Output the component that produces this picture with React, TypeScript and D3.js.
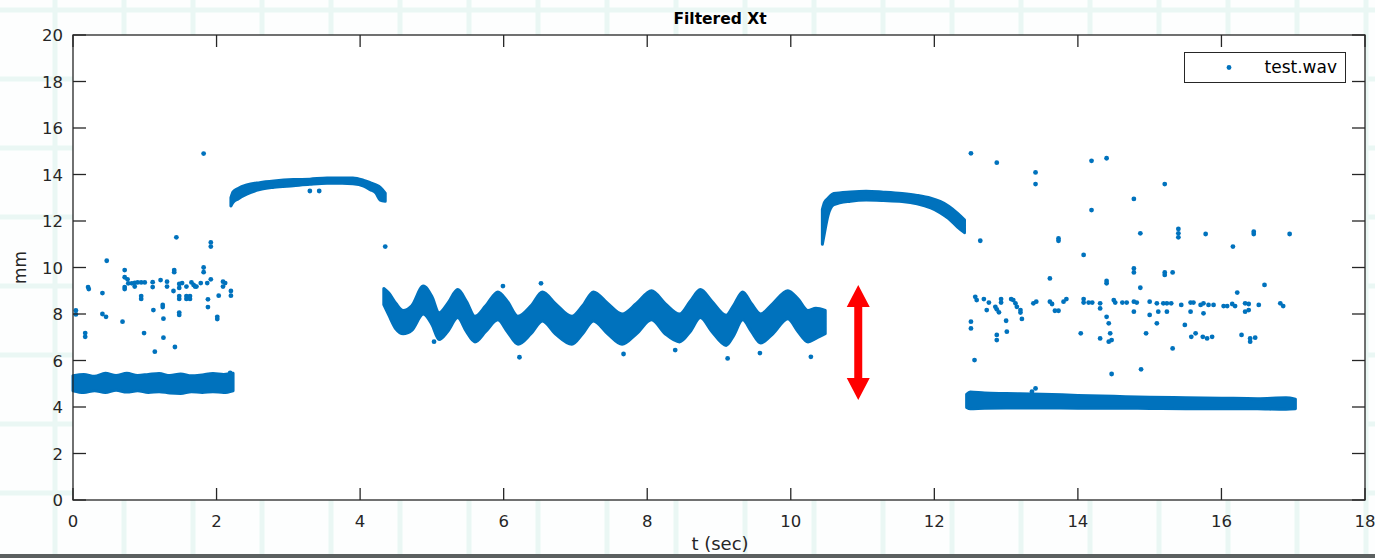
import React, { useEffect, useRef } from "react";
import * as d3 from "d3";

// axis ticks
const xTicks = [0, 2, 4, 6, 8, 10, 12, 14, 16, 18];
const yTicks = [0, 2, 4, 6, 8, 10, 12, 14, 16, 18, 20];

// dense bands: time, lower edge, upper edge (mm)
const bandAT = [0, 0.15, 0.3, 0.45, 0.6, 0.75, 0.9, 1.05, 1.2, 1.35, 1.5, 1.65, 1.8, 1.95, 2.1, 2.23];
const bandALo = [4.7, 4.62, 4.7, 4.62, 4.72, 4.64, 4.7, 4.62, 4.66, 4.6, 4.58, 4.66, 4.62, 4.66, 4.62, 4.7];
const bandAHi = [5.35, 5.4, 5.32, 5.45, 5.35, 5.45, 5.36, 5.4, 5.44, 5.35, 5.42, 5.34, 5.38, 5.44, 5.4, 5.45];

const bandBT = [2.2, 2.23, 2.3, 2.42, 2.6, 2.8, 3.07, 3.3, 3.54, 3.75, 3.9, 4.05, 4.14, 4.22, 4.28, 4.35];
const bandBLo = [12.65, 12.8, 12.95, 13.15, 13.35, 13.45, 13.52, 13.58, 13.62, 13.62, 13.6, 13.5, 13.35, 13.2, 12.9, 12.85];
const bandBHi = [13.0, 13.25, 13.4, 13.55, 13.65, 13.72, 13.78, 13.8, 13.85, 13.85, 13.85, 13.75, 13.65, 13.55, 13.45, 13.2];

const bandCT = [4.33, 4.4, 4.5, 4.6, 4.72, 4.88, 5.0, 5.1, 5.22, 5.36, 5.48, 5.6, 5.75, 5.92, 6.05, 6.2, 6.38, 6.54, 6.72, 6.95, 7.1, 7.25, 7.45, 7.65, 7.85, 8.06, 8.25, 8.45, 8.6, 8.74, 8.9, 9.1, 9.2, 9.33, 9.45, 9.58, 9.75, 9.96, 10.1, 10.24, 10.35, 10.48];
const bandCLo = [8.4, 7.95, 7.35, 7.15, 7.3, 8.0, 7.55, 6.9, 7.25, 7.85, 7.25, 6.8, 7.25, 7.75, 7.25, 6.7, 7.15, 7.7, 7.15, 6.7, 7.15, 7.7, 7.15, 6.7, 7.15, 7.75, 7.15, 6.8, 7.25, 7.85, 7.25, 6.65, 7.05, 7.75, 7.25, 6.75, 7.15, 7.8, 7.25, 6.8, 6.95, 7.15];
const bandCHi = [9.1, 8.9, 8.45, 8.15, 8.35, 9.2, 8.75, 8.05, 8.45, 9.05, 8.55, 7.9, 8.35, 8.95, 8.55, 7.9, 8.35, 8.95, 8.45, 7.9, 8.35, 8.95, 8.45, 8.0, 8.45, 9.0, 8.45, 8.0, 8.55, 9.05, 8.55, 7.95, 8.35, 8.95, 8.45, 8.0, 8.45, 9.0, 8.65, 8.15, 8.25, 8.15];

const bandDT = [10.44, 10.47, 10.52, 10.6, 10.83, 11.05, 11.29, 11.55, 11.76, 11.95, 12.08, 12.2, 12.32, 12.42];
const bandDLo = [11.0, 11.5, 12.25, 12.7, 12.85, 12.9, 12.88, 12.84, 12.74, 12.56, 12.36, 12.1, 11.75, 11.5];
const bandDHi = [12.5, 12.8, 12.98, 13.18, 13.25, 13.28, 13.24, 13.18, 13.1, 12.98, 12.84, 12.64, 12.34, 12.05];

const bandET = [12.45, 12.5, 12.7, 13.0, 13.5, 14.0, 14.5, 15.0, 15.5, 16.0, 16.5, 16.9, 17.03];
const bandELo = [3.98, 3.92, 3.95, 3.96, 3.96, 3.95, 3.95, 3.94, 3.93, 3.93, 3.92, 3.9, 3.92];
const bandEHi = [4.55, 4.65, 4.6, 4.58, 4.55, 4.5, 4.46, 4.42, 4.4, 4.38, 4.36, 4.4, 4.34];

// isolated samples [t, mm]
const pointsEarly: [number, number][] = [
  [0.04, 8.15], [0.04, 7.98], [0.17, 7.18], [0.17, 7.02], [0.21, 9.16], [0.22, 9.07],
  [0.41, 8.9], [0.41, 8.0], [0.46, 7.88], [0.47, 10.29], [0.69, 7.67], [0.72, 9.89],
  [0.72, 9.58], [0.76, 9.49], [0.72, 9.16], [0.72, 9.07], [0.77, 9.32], [0.82, 9.32],
  [0.86, 9.34], [0.9, 9.36], [0.95, 9.36], [1.0, 9.36], [0.86, 9.18], [0.95, 8.77],
  [0.95, 8.65], [0.99, 7.18], [1.11, 9.37], [1.11, 9.16], [1.12, 8.17], [1.14, 6.38],
  [1.22, 9.46], [1.25, 8.39], [1.25, 8.3], [1.26, 7.8], [1.26, 6.98], [1.31, 9.39],
  [1.31, 9.18], [1.41, 9.89], [1.41, 9.8], [1.4, 8.99], [1.42, 6.58], [1.44, 11.3],
  [1.48, 9.29], [1.48, 9.12], [1.48, 8.77], [1.48, 8.65], [1.48, 8.06], [1.48, 7.96],
  [1.52, 9.33], [1.58, 9.18], [1.58, 8.77], [1.58, 8.65], [1.63, 8.77], [1.63, 8.65],
  [1.65, 9.36], [1.68, 9.25], [1.7, 9.18], [1.72, 9.18], [1.78, 9.33], [1.82, 10.0],
  [1.82, 9.8], [1.88, 8.63], [1.87, 9.33], [1.88, 8.3], [1.92, 9.49], [1.92, 11.08],
  [1.92, 10.9], [2.01, 7.88], [2.01, 7.78], [2.03, 8.79], [2.09, 9.39], [2.09, 9.18],
  [2.12, 9.33], [2.2, 8.99], [2.2, 8.79], [2.19, 5.47], [1.82, 14.9],
  [3.3, 13.29], [3.43, 13.29], [4.35, 10.9], [5.03, 6.81], [6.22, 6.14], [5.99, 9.2],
  [6.52, 9.32], [9.12, 6.09], [7.67, 6.28], [10.28, 6.16], [8.39, 6.45], [9.57, 6.32],
];

const pointsLate: [number, number][] = [
  [12.51, 14.91], [12.87, 14.51], [13.41, 14.09], [13.41, 13.59], [14.19, 14.59],
  [14.4, 14.7], [15.21, 13.59], [14.78, 12.95], [14.19, 12.47], [12.64, 11.15],
  [13.73, 11.25], [13.73, 11.15], [14.87, 11.47], [15.4, 11.66], [15.4, 11.47],
  [15.4, 11.3], [15.78, 11.44], [16.16, 10.9], [16.45, 11.54], [16.45, 11.44],
  [16.95, 11.44], [14.08, 10.54], [13.61, 9.53], [14.4, 9.42], [14.4, 9.32],
  [14.78, 9.96], [14.78, 9.79], [14.87, 9.13], [15.21, 9.79], [15.21, 9.68], [15.32, 9.79],
  [12.57, 8.74], [12.59, 8.6], [12.69, 8.64], [12.76, 8.49], [12.73, 8.17], [12.85, 8.31],
  [12.87, 8.2], [12.9, 8.07], [12.93, 8.64], [12.93, 8.49], [13.0, 7.71], [13.01, 7.24],
  [13.07, 8.64], [13.1, 8.6], [13.13, 8.46], [13.15, 8.31], [13.2, 8.17], [13.2, 8.06],
  [13.22, 7.79], [13.38, 8.46], [13.42, 8.53], [13.61, 8.53], [13.64, 8.43], [13.68, 8.14],
  [13.73, 8.14], [13.8, 8.53], [13.84, 8.64], [14.08, 8.64], [14.08, 8.49], [14.15, 8.49],
  [14.2, 8.49], [14.31, 8.46], [14.31, 8.24], [14.4, 7.88], [14.43, 7.6], [14.45, 7.17],
  [14.5, 8.6], [14.52, 8.49], [14.62, 8.49], [14.68, 8.49], [14.78, 8.53], [14.78, 8.1],
  [14.82, 8.49], [15.0, 8.53], [15.0, 7.96], [15.1, 8.46], [15.12, 8.1], [15.1, 7.6],
  [15.19, 8.46], [15.24, 8.46], [15.24, 8.1], [15.3, 8.46], [15.44, 8.39], [15.49, 7.53],
  [15.57, 8.49], [15.57, 8.1], [15.61, 8.49], [15.71, 8.39], [15.75, 8.46], [15.75, 8.03],
  [15.82, 8.39], [15.89, 8.39], [16.03, 8.34], [16.08, 8.34], [16.15, 8.43], [16.19, 8.34],
  [16.22, 8.92], [16.33, 8.46], [16.33, 8.1], [16.38, 8.43], [16.38, 8.17], [16.52, 8.39],
  [16.6, 9.25], [16.82, 8.46], [16.86, 8.34],
  [12.51, 7.67], [12.51, 7.38], [12.56, 6.02], [12.87, 7.1], [12.87, 6.88], [14.04, 7.17],
  [14.31, 6.95], [14.43, 6.81], [14.47, 6.88], [14.47, 5.42], [14.88, 5.62], [14.95, 7.17],
  [15.32, 6.52], [15.58, 7.02], [15.64, 7.17], [15.74, 7.02], [15.8, 6.95], [15.87, 7.02],
  [16.28, 7.1], [16.4, 6.95], [16.4, 6.81], [16.47, 6.98], [13.36, 4.66], [13.41, 4.8],
];

// red double arrow annotation: time, from mm, to mm
const arrowT = 10.94;
const arrowRange = [4.3, 9.25];

export default function App() {
  const svgRef = useRef<SVGSVGElement | null>(null);

  useEffect(() => {
    const width = 1375;
    const height = 558;
    const margin = { top: 35, right: 10, bottom: 58, left: 73 };
    const blue = "#0072BD";
    const ink = "#262626";
    const font = "'DejaVu Sans', Verdana, sans-serif";

    const svg = d3.select(svgRef.current);
    svg.selectAll("*").remove();

    const x = d3.scaleLinear().domain([0, 18]).range([margin.left, width - margin.right]);
    const y = d3.scaleLinear().domain([0, 20]).range([height - margin.bottom, margin.top]);

    // faint screenshot backdrop
    svg.append("rect").attr("width", width).attr("height", height).attr("fill", "#fdfefe");
    const bg = svg.append("g").attr("stroke", "#eaf7f4").attr("stroke-width", 5);
    d3.range(55, width, 69).forEach((gx) =>
      bg.append("line").attr("x1", gx).attr("x2", gx).attr("y1", 0).attr("y2", height)
    );
    d3.range(10, height, 69).forEach((gy) =>
      bg.append("line").attr("x1", 0).attr("x2", width).attr("y1", gy).attr("y2", gy)
    );
    svg.append("rect").attr("x", 0).attr("y", 554).attr("width", width).attr("height", 4).attr("fill", "#5b6060");

    // plot area
    svg
      .append("rect")
      .attr("x", x(0))
      .attr("y", y(20))
      .attr("width", x(18) - x(0))
      .attr("height", y(0) - y(20))
      .attr("fill", "white");

    // dense bands
    const bands = [
      [bandAT, bandALo, bandAHi],
      [bandBT, bandBLo, bandBHi],
      [bandCT, bandCLo, bandCHi],
      [bandDT, bandDLo, bandDHi],
      [bandET, bandELo, bandEHi],
    ];
    bands.forEach(([ts, lo, hi]) => {
      const rows = ts.map((t, i) => ({ t, lo: lo[i], hi: hi[i] }));
      const a = d3
        .area<{ t: number; lo: number; hi: number }>()
        .x((d) => x(d.t))
        .y0((d) => y(d.lo))
        .y1((d) => y(d.hi))
        .curve(d3.curveMonotoneX);
      svg
        .append("path")
        .datum(rows)
        .attr("d", a)
        .attr("fill", blue)
        .attr("stroke", blue)
        .attr("stroke-width", 3)
        .attr("stroke-linejoin", "round");
    });

    // scattered samples
    svg
      .append("g")
      .attr("fill", blue)
      .selectAll("circle")
      .data([...pointsEarly, ...pointsLate])
      .join("circle")
      .attr("cx", (d) => x(d[0]))
      .attr("cy", (d) => y(d[1]))
      .attr("r", 2.4);

    // red double arrow
    const ax = x(arrowT);
    const yTop = y(arrowRange[1]);
    const yBot = y(arrowRange[0]);
    const head = 22;
    const halfHead = 11.5;
    const halfShaft = 4;
    svg
      .append("path")
      .attr("fill", "#ff0000")
      .attr(
        "d",
        `M${ax},${yTop} L${ax + halfHead},${yTop + head} L${ax + halfShaft},${yTop + head} ` +
          `L${ax + halfShaft},${yBot - head} L${ax + halfHead},${yBot - head} L${ax},${yBot} ` +
          `L${ax - halfHead},${yBot - head} L${ax - halfShaft},${yBot - head} L${ax - halfShaft},${yTop + head} ` +
          `L${ax - halfHead},${yTop + head} Z`
      );

    // axes box with inward ticks on all sides
    const axisG = svg.append("g").attr("stroke", ink).attr("stroke-width", 1.3);
    axisG
      .append("rect")
      .attr("x", x(0))
      .attr("y", y(20))
      .attr("width", x(18) - x(0))
      .attr("height", y(0) - y(20))
      .attr("fill", "none");
    xTicks.forEach((t) => {
      axisG.append("line").attr("x1", x(t)).attr("x2", x(t)).attr("y1", y(0)).attr("y2", y(0) - 12);
      axisG.append("line").attr("x1", x(t)).attr("x2", x(t)).attr("y1", y(20)).attr("y2", y(20) + 12);
    });
    yTicks.forEach((v) => {
      axisG.append("line").attr("x1", x(0)).attr("x2", x(0) + 13).attr("y1", y(v)).attr("y2", y(v));
      axisG.append("line").attr("x1", x(18)).attr("x2", x(18) - 13).attr("y1", y(v)).attr("y2", y(v));
    });

    const labels = svg.append("g").attr("fill", ink).attr("font-family", font).attr("font-size", 16.5);
    xTicks.forEach((t) => {
      labels
        .append("text")
        .attr("x", x(t))
        .attr("y", y(0) + 27)
        .attr("text-anchor", "middle")
        .text(t);
    });
    yTicks.forEach((v) => {
      labels
        .append("text")
        .attr("x", x(0) - 10)
        .attr("y", y(v) + 6)
        .attr("text-anchor", "end")
        .text(v);
    });

    // titles
    svg
      .append("text")
      .attr("x", (x(0) + x(18)) / 2 + 1)
      .attr("y", 24)
      .attr("text-anchor", "middle")
      .attr("font-family", font)
      .attr("font-weight", "bold")
      .attr("font-size", 15.5)
      .attr("fill", "#000")
      .text("Filtered Xt");
    svg
      .append("text")
      .attr("x", (x(0) + x(18)) / 2 + 1)
      .attr("y", 550)
      .attr("text-anchor", "middle")
      .attr("font-family", font)
      .attr("font-size", 18)
      .attr("fill", ink)
      .text("t (sec)");
    svg
      .append("text")
      .attr("transform", `translate(26,${(y(0) + y(20)) / 2}) rotate(-90)`)
      .attr("text-anchor", "middle")
      .attr("font-family", font)
      .attr("font-size", 17)
      .attr("fill", ink)
      .text("mm");

    // legend
    const legend = svg.append("g");
    legend
      .append("rect")
      .attr("x", 1184.5)
      .attr("y", 52.5)
      .attr("width", 161)
      .attr("height", 30)
      .attr("fill", "white")
      .attr("stroke", ink)
      .attr("stroke-width", 1);
    legend.append("circle").attr("cx", 1229).attr("cy", 67.5).attr("r", 2.4).attr("fill", blue);
    legend
      .append("text")
      .attr("x", 1337)
      .attr("y", 73)
      .attr("text-anchor", "end")
      .attr("font-family", font)
      .attr("font-size", 17)
      .attr("fill", "#000")
      .text("test.wav");
  }, []);

  return (
    <div style={{ position: "absolute", left: 0, top: 0 }}>
      <svg ref={svgRef} width={1375} height={558} style={{ display: "block" }} />
    </div>
  );
}
